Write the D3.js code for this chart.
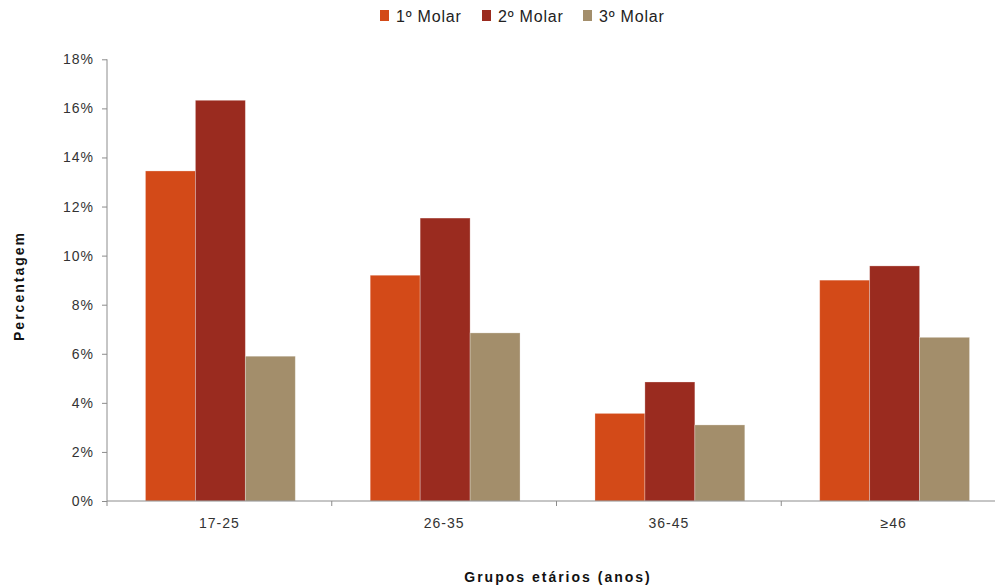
<!DOCTYPE html>
<html>
<head>
<meta charset="utf-8">
<script src="https://cdn.jsdelivr.net/npm/d3@7"></script>
<style>
  html, body { margin: 0; padding: 0; background: #fff; }
  svg { display: block; }
</style>
</head>
<body>
<svg id="chart" width="995" height="587"></svg>
<script>
// Age groups and the share of each molar per group (%)
const categories = ["17-25", "26-35", "36-45", "\u226546"];
const seriesNames = ["1\u00ba Molar", "2\u00ba Molar", "3\u00ba Molar"];
const molar1 = [13.45, 9.2, 3.57, 9.0];
const molar2 = [16.33, 11.53, 4.85, 9.58];
const molar3 = [5.9, 6.85, 3.1, 6.67];
const yTicks = [0, 2, 4, 6, 8, 10, 12, 14, 16, 18];
const colors = ["#D34A18", "#9A2B1F", "#A38E6B"];

const series = [molar1, molar2, molar3];

const svg = d3.select("#chart");
const plotLeft = 107, plotRight = 1006, plotTop = 59.3, plotBottom = 501;

const x = d3.scaleBand().domain(categories).range([plotLeft, plotRight]).padding(0);
const xInner = d3.scaleBand().domain(d3.range(seriesNames.length))
  .range([x.bandwidth() / 6 + 1, x.bandwidth() * 5 / 6 + 1]).padding(0);
const y = d3.scaleLinear().domain([0, 18]).range([plotBottom, plotTop]);

const tickFont = "'Liberation Sans', Arial, sans-serif";
const axisColor = "#8c8c8c";

// Bars
const groups = svg.append("g").selectAll("g")
  .data(categories)
  .join("g")
  .attr("transform", d => `translate(${x(d)},0)`);

groups.selectAll("rect")
  .data((d, i) => series.map((s, k) => ({ k, v: s[i] })))
  .join("rect")
  .attr("x", d => xInner(d.k))
  .attr("width", xInner.bandwidth())
  .attr("y", d => y(d.v))
  .attr("height", d => y(0) - y(d.v))
  .attr("fill", d => colors[d.k])
  .attr("stroke", "rgba(255,255,255,0.35)")
  .attr("stroke-width", 0.8);

// Y axis
const yAxis = d3.axisLeft(y).tickValues(yTicks).tickSize(5).tickPadding(8)
  .tickFormat(d => d + "%");
const gy = svg.append("g").attr("transform", `translate(${plotLeft},0)`).call(yAxis);
gy.select(".domain").remove();
gy.append("line").attr("x1", 0).attr("x2", 0).attr("y1", plotTop).attr("y2", plotBottom + 5)
  .attr("stroke", axisColor);
gy.selectAll(".tick line").attr("stroke", axisColor);
gy.selectAll(".tick text").attr("fill", "#333")
  .style("font-family", tickFont).style("font-size", "14px")
  .style("letter-spacing", "1px");

// X axis line with boundary ticks between groups
const gx = svg.append("g");
gx.append("line").attr("x1", plotLeft).attr("x2", plotRight).attr("y1", plotBottom).attr("y2", plotBottom)
  .attr("stroke", axisColor);
gx.selectAll("line.bt")
  .data(categories.slice(1))
  .join("line")
  .attr("class", "bt")
  .attr("x1", d => x(d)).attr("x2", d => x(d))
  .attr("y1", plotBottom).attr("y2", plotBottom + 5)
  .attr("stroke", axisColor);
gx.selectAll("text")
  .data(categories)
  .join("text")
  .attr("x", d => x(d) + x.bandwidth() / 2)
  .attr("y", plotBottom + 27)
  .attr("text-anchor", "middle")
  .attr("fill", "#333")
  .style("font-family", tickFont)
  .style("font-size", "14px")
  .style("letter-spacing", "1px")
  .text(d => d);

// Axis titles
svg.append("text")
  .attr("x", 558).attr("y", 582)
  .attr("text-anchor", "middle")
  .style("font-family", "'Liberation Sans', Arial, sans-serif")
  .style("font-weight", "bold").style("font-size", "14px")
  .style("letter-spacing", "2px")
  .attr("fill", "#111")
  .text("Grupos et\u00e1rios (anos)");

svg.append("text")
  .attr("transform", "translate(24,286) rotate(-90)")
  .attr("text-anchor", "middle")
  .style("font-family", "'Liberation Sans', Arial, sans-serif")
  .style("font-weight", "bold").style("font-size", "14px")
  .style("letter-spacing", "2px")
  .attr("fill", "#111")
  .text("Percentagem");

// Legend
const legendX = [380, 482, 583];
const legend = svg.append("g").selectAll("g")
  .data(seriesNames)
  .join("g")
  .attr("transform", (d, i) => `translate(${legendX[i]},0)`);
legend.append("rect").attr("x", 0).attr("y", 10).attr("width", 9).attr("height", 11)
  .attr("fill", (d, i) => colors[i]);
legend.append("text").attr("x", 16).attr("y", 22)
  .attr("fill", "#222")
  .style("font-family", tickFont)
  .style("font-size", "16px")
  .style("letter-spacing", "0.8px")
  .text(d => d);
</script>
</body>
</html>
